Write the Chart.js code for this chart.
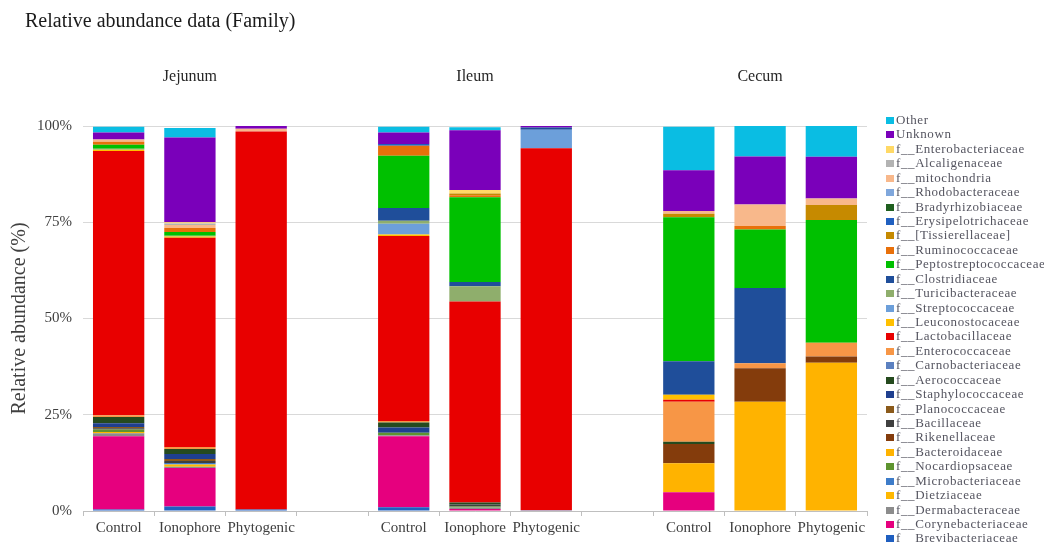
<!DOCTYPE html>
<html><head><meta charset="utf-8">
<script src="https://cdn.jsdelivr.net/npm/chart.js@4.4.1/dist/chart.umd.min.js"></script>
<style>html,body{margin:0;padding:0;background:#fff;}canvas{display:block;}</style>
</head><body>
<canvas id="c" width="1044" height="543"></canvas>
<script>
// ---- data ----
const categories = ['Control','Ionophore','Phytogenic','','Control','Ionophore','Phytogenic','','Control','Ionophore','Phytogenic'];
const groups = ['Jejunum','Ileum','Cecum'];
const yTicks = [0, 25, 50, 75, 100];

// families, bottom of stack first
const families = [
  'f__Brevibacteriaceae','f__Corynebacteriaceae','f__Dermabacteraceae','f__Dietziaceae',
  'f__Microbacteriaceae','f__Nocardiopsaceae','f__Bacteroidaceae','f__Rikenellaceae',
  'f__Bacillaceae','f__Planococcaceae','f__Staphylococcaceae','f__Aerococcaceae',
  'f__Carnobacteriaceae','f__Enterococcaceae','f__Lactobacillaceae','f__Leuconostocaceae',
  'f__Streptococcaceae','f__Turicibacteraceae','f__Clostridiaceae','f__Peptostreptococcaceae',
  'f__Ruminococcaceae','f__[Tissierellaceae]','f__Erysipelotrichaceae','f__Bradyrhizobiaceae',
  'f__Rhodobacteraceae','f__mitochondria','f__Alcaligenaceae','f__Enterobacteriaceae',
  'Unknown','Other'
];
const familyColors = [
  '#1F5FC0','#E6007E','#8C8C8C','#FFB800',
  '#3D7CC9','#5E9430','#FFB300','#843C0C',
  '#3F3F3F','#8B5A1A','#1F3F8F','#254A1E',
  '#5B80C0','#F79646','#E80000','#FFC000',
  '#6C9FDA','#8FAE6C','#1F4E9A','#00C000',
  '#E8700A','#C68A00','#2060C0','#1F5F1F',
  '#7FA7DC','#F8B88B','#B3B3B3','#FFD966',
  '#7A00BA','#0ABDE3'
];

// relative abundance (%) per sample, same order as families
const jejunumControl    = [0.4,19.0,0.8,0.3,0,0.7,0,0,0.3,0.3,1.0,1.6,0,0.5,68.6,0.3,0,0.3,0,1.0,0.8,0,0,0,0,0.6,0,0,1.8,1.5];
const jejunumIonophore  = [1.2,10.0,0.3,0.6,0.4,0,0,0,0.5,0.5,1.3,1.3,0,0.5,54.4,0.3,0,0.2,0,1.0,1.0,0,0,0,0,0.8,0.4,0.3,22.0,2.5];
const jejunumPhytogenic = [0.4,0,0,0,0,0,0,0,0,0,0,0,0,0,98.2,0,0,0,0,0,0,0,0,0,0,0.7,0,0,0.7,0];
const ileumControl      = [1.0,18.4,0.3,0,0,0.6,0,0,0,0,1.4,1.3,0,0.4,48.0,0.4,2.8,0.8,3.3,13.6,2.6,0,0.4,0,0,0,0,0,3.0,1.5];
const ileumIonophore    = [0,0.5,0.4,0,0,0.3,0,0,0.5,0,0,0.5,0,0,52.2,0,0,4.0,1.1,22.0,0.5,0.5,0,0,0,0,0,0.9,15.5,0.8];
const ileumPhytogenic   = [0.2,0,0,0,0,0,0,0,0,0,0,0,0,0,94.0,0,4.8,0,0.6,0,0,0,0,0,0,0,0,0,0.5,0];
const cecumControl      = [0,4.9,0,0,0,0,7.5,5.0,0,0,0,0.6,0,10.4,0.5,1.3,0,0,8.7,37.4,0,0.9,0,0,0,0.7,0,0,10.6,11.3];
const cecumIonophore    = [0,0,0,0,0,0,28.4,8.7,0,0,0,0,0,1.3,0,0,0,0,19.5,15.2,0.9,0,0,0,0,5.6,0,0,12.5,8.0];
const cecumPhytogenic   = [0,0,0,0,0,0,38.5,1.6,0,0,0,0,0,3.6,0,0,0,0,0,31.9,0,3.9,0,0,0,1.7,0,0,10.8,8.0];

const samples = [jejunumControl, jejunumIonophore, jejunumPhytogenic, null,
                 ileumControl, ileumIonophore, ileumPhytogenic, null,
                 cecumControl, cecumIonophore, cecumPhytogenic];

// ---- chart ----
const SERIF = '"Liberation Serif", "Times New Roman", serif';
Chart.defaults.font.family = SERIF;

const datasets = families.map((name, i) => ({
  label: name,
  data: samples.map(s => s ? s[i] : null),
  backgroundColor: familyColors[i],
  borderWidth: 0,
  barPercentage: 0.72,
  categoryPercentage: 1.0,
  stack: 'all'
}));

const extras = {
  id: 'extras',
  afterDraw(chart) {
    const ctx = chart.ctx;
    ctx.save();
    ctx.textBaseline = 'middle';
    // main title
    ctx.fillStyle = '#1a1a1a';
    ctx.textAlign = 'left';
    ctx.font = '20px ' + SERIF;
    ctx.fillText('Relative abundance data (Family)', 25, 22);
    // group titles
    const xs = chart.scales.x;
    ctx.textAlign = 'center';
    ctx.font = '16px ' + SERIF;
    ctx.fillStyle = '#262626';
    groups.forEach((g, k) => {
      ctx.fillText(g, xs.getPixelForValue(k * 4 + 1), 77);
    });
    // legend (top = last dataset)
    ctx.textAlign = 'left';
    ctx.font = '13px ' + SERIF;
    if ('letterSpacing' in ctx) ctx.letterSpacing = '0.6px';
    const n = chart.data.datasets.length;
    for (let r = 0; r < n; r++) {
      const ds = chart.data.datasets[n - 1 - r];
      const y = 120 + r * 14.43;
      ctx.fillStyle = ds.backgroundColor;
      ctx.fillRect(886, Math.round(y - 3), 8, 7);
      ctx.fillStyle = '#555560';
      ctx.fillText(ds.label, 896, y + 0.5);
    }
    ctx.restore();
  }
};

new Chart(document.getElementById('c'), {
  type: 'bar',
  data: { labels: categories, datasets },
  options: {
    responsive: false,
    animation: false,
    devicePixelRatio: 1,
    layout: { padding: { top: 126, right: 177, left: 0, bottom: 0 } },
    plugins: { legend: { display: false }, tooltip: { enabled: false } },
    scales: {
      x: {
        stacked: true,
        grid: { offset: true, drawOnChartArea: false, drawTicks: true, tickLength: 5, color: '#bfbfbf' },
        border: { display: true, color: '#bfbfbf' },
        ticks: { autoSkip: false, maxRotation: 0, minRotation: 0, padding: 3,
                 color: '#404040', font: { size: 15, family: SERIF } },
        afterFit(s) { s.height = 32; }
      },
      y: {
        stacked: true,
        min: 0, max: 100,
        afterBuildTicks(s) { s.ticks = yTicks.map(v => ({ value: v })); },
        grid: { color: '#d9d9d9', drawTicks: false },
        border: { display: false },
        ticks: { padding: 11, color: '#404040', font: { size: 15, family: SERIF },
                 callback: v => v + '%' },
        title: { display: true, text: 'Relative abundance (%)', color: '#404040',
                 font: { size: 20, family: SERIF }, padding: { top: 8, bottom: 0 } },
        afterFit(s) { s.width = 83; }
      }
    }
  },
  plugins: [extras]
});
</script>
</body></html>
